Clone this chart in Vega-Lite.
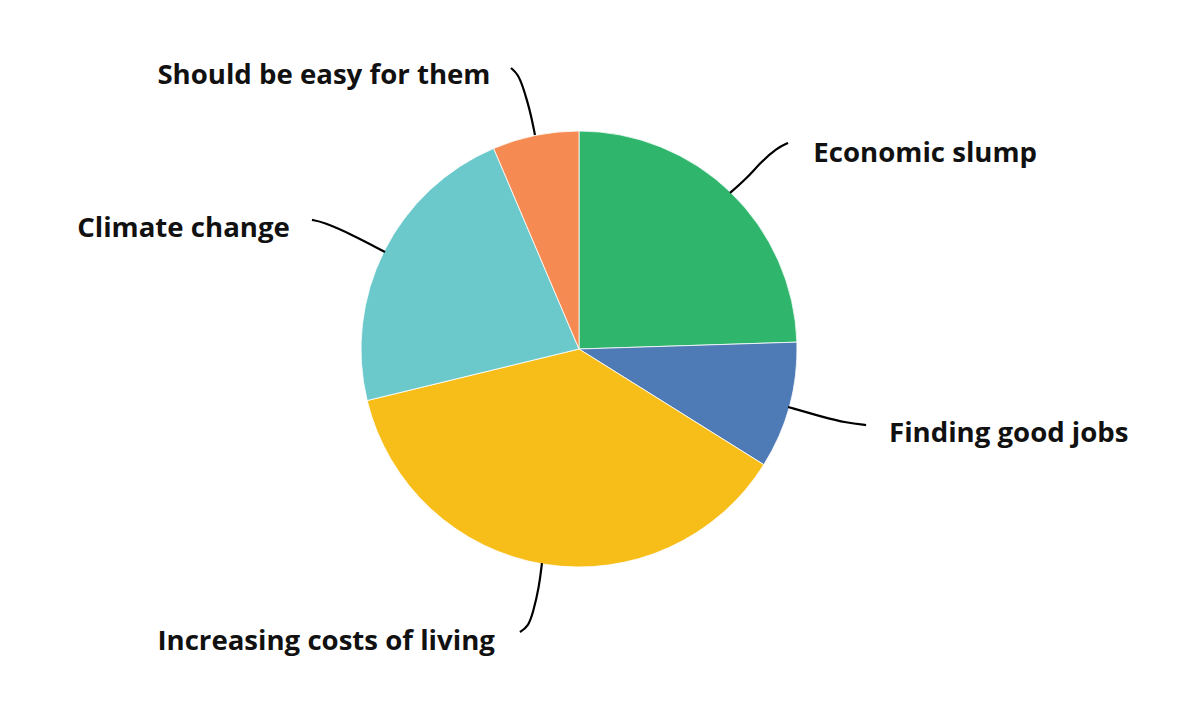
{
  "$schema": "https://vega.github.io/schema/vega-lite/v6.json",
  "width": 1158,
  "height": 698,
  "autosize": "none",
  "padding": {"left": 0, "top": 0, "right": 30, "bottom": 21},
  "background": "white",
  "config": {"view": {"stroke": null}},
  "datasets": {
    "slices": [
      {"category": "Economic slump", "share": 24.5, "rank": 1},
      {"category": "Finding good jobs", "share": 9.4, "rank": 2},
      {"category": "Increasing costs of living", "share": 37.3, "rank": 3},
      {"category": "Climate change", "share": 22.4, "rank": 4},
      {"category": "Should be easy for them", "share": 6.4, "rank": 5}
    ],
    "labels": [
      {"label": "Should be easy for them", "x": -1.934, "y": 1.216},
      {"label": "Economic slump", "x": 1.075, "y": 0.858},
      {"label": "Climate change", "x": -2.302, "y": 0.514},
      {"label": "Finding good jobs", "x": 1.422, "y": -0.427},
      {"label": "Increasing costs of living", "x": -1.934, "y": -1.381}
    ],
    "leaders": [
      {"label": "Should be easy for them", "step": 1, "x": -0.312, "y": 1.289},
      {"label": "Should be easy for them", "step": 2, "x": -0.280, "y": 1.261},
      {"label": "Should be easy for them", "step": 3, "x": -0.257, "y": 1.202},
      {"label": "Should be easy for them", "step": 4, "x": -0.239, "y": 1.142},
      {"label": "Should be easy for them", "step": 5, "x": -0.220, "y": 1.073},
      {"label": "Should be easy for them", "step": 6, "x": -0.202, "y": 0.982},
      {"label": "Economic slump", "step": 1, "x": 0.959, "y": 0.945},
      {"label": "Economic slump", "step": 2, "x": 0.908, "y": 0.922},
      {"label": "Economic slump", "step": 3, "x": 0.830, "y": 0.853},
      {"label": "Economic slump", "step": 4, "x": 0.771, "y": 0.784},
      {"label": "Economic slump", "step": 5, "x": 0.693, "y": 0.716},
      {"label": "Finding good jobs", "step": 1, "x": 0.959, "y": -0.266},
      {"label": "Finding good jobs", "step": 2, "x": 1.119, "y": -0.312},
      {"label": "Finding good jobs", "step": 3, "x": 1.229, "y": -0.339},
      {"label": "Finding good jobs", "step": 4, "x": 1.317, "y": -0.349},
      {"label": "Increasing costs of living", "step": 1, "x": -0.170, "y": -0.982},
      {"label": "Increasing costs of living", "step": 2, "x": -0.183, "y": -1.092},
      {"label": "Increasing costs of living", "step": 3, "x": -0.211, "y": -1.211},
      {"label": "Increasing costs of living", "step": 4, "x": -0.234, "y": -1.275},
      {"label": "Increasing costs of living", "step": 5, "x": -0.271, "y": -1.298},
      {"label": "Climate change", "step": 1, "x": -1.225, "y": 0.592},
      {"label": "Climate change", "step": 2, "x": -1.174, "y": 0.583},
      {"label": "Climate change", "step": 3, "x": -1.037, "y": 0.523},
      {"label": "Climate change", "step": 4, "x": -0.890, "y": 0.445}
    ]
  },
  "layer": [
    {
      "data": {"name": "slices"},
      "mark": {"type": "arc", "outerRadius": 218, "stroke": "white", "strokeWidth": 0.8},
      "encoding": {
        "theta": {"field": "share", "type": "quantitative", "stack": true},
        "order": {"field": "rank", "type": "quantitative"},
        "color": {
          "field": "category",
          "type": "nominal",
          "scale": {
            "domain": ["Economic slump", "Finding good jobs", "Increasing costs of living", "Climate change", "Should be easy for them"],
            "range": ["#2fb56c", "#4e7ab6", "#f7be1a", "#6bc9cb", "#f58b52"]
          },
          "legend": null
        }
      }
    },
    {
      "data": {"name": "leaders"},
      "mark": {"type": "line", "color": "black", "strokeWidth": 2.2, "interpolate": "basis"},
      "encoding": {
        "x": {"field": "x", "type": "quantitative", "scale": {"domain": [-2.656, 2.656], "zero": false, "nice": false}, "axis": null},
        "y": {"field": "y", "type": "quantitative", "scale": {"domain": [-1.601, 1.601], "zero": false, "nice": false}, "axis": null},
        "detail": {"field": "label", "type": "nominal"},
        "order": {"field": "step", "type": "quantitative"}
      }
    },
    {
      "data": {"name": "labels"},
      "mark": {"type": "text", "align": "left", "baseline": "alphabetic", "font": "Open Sans", "fontWeight": 700, "fontSize": 27.6, "color": "#111111"},
      "encoding": {
        "x": {"field": "x", "type": "quantitative", "scale": {"domain": [-2.656, 2.656], "zero": false, "nice": false}, "axis": null},
        "y": {"field": "y", "type": "quantitative", "scale": {"domain": [-1.601, 1.601], "zero": false, "nice": false}, "axis": null},
        "text": {"field": "label", "type": "nominal"}
      }
    }
  ]
}
